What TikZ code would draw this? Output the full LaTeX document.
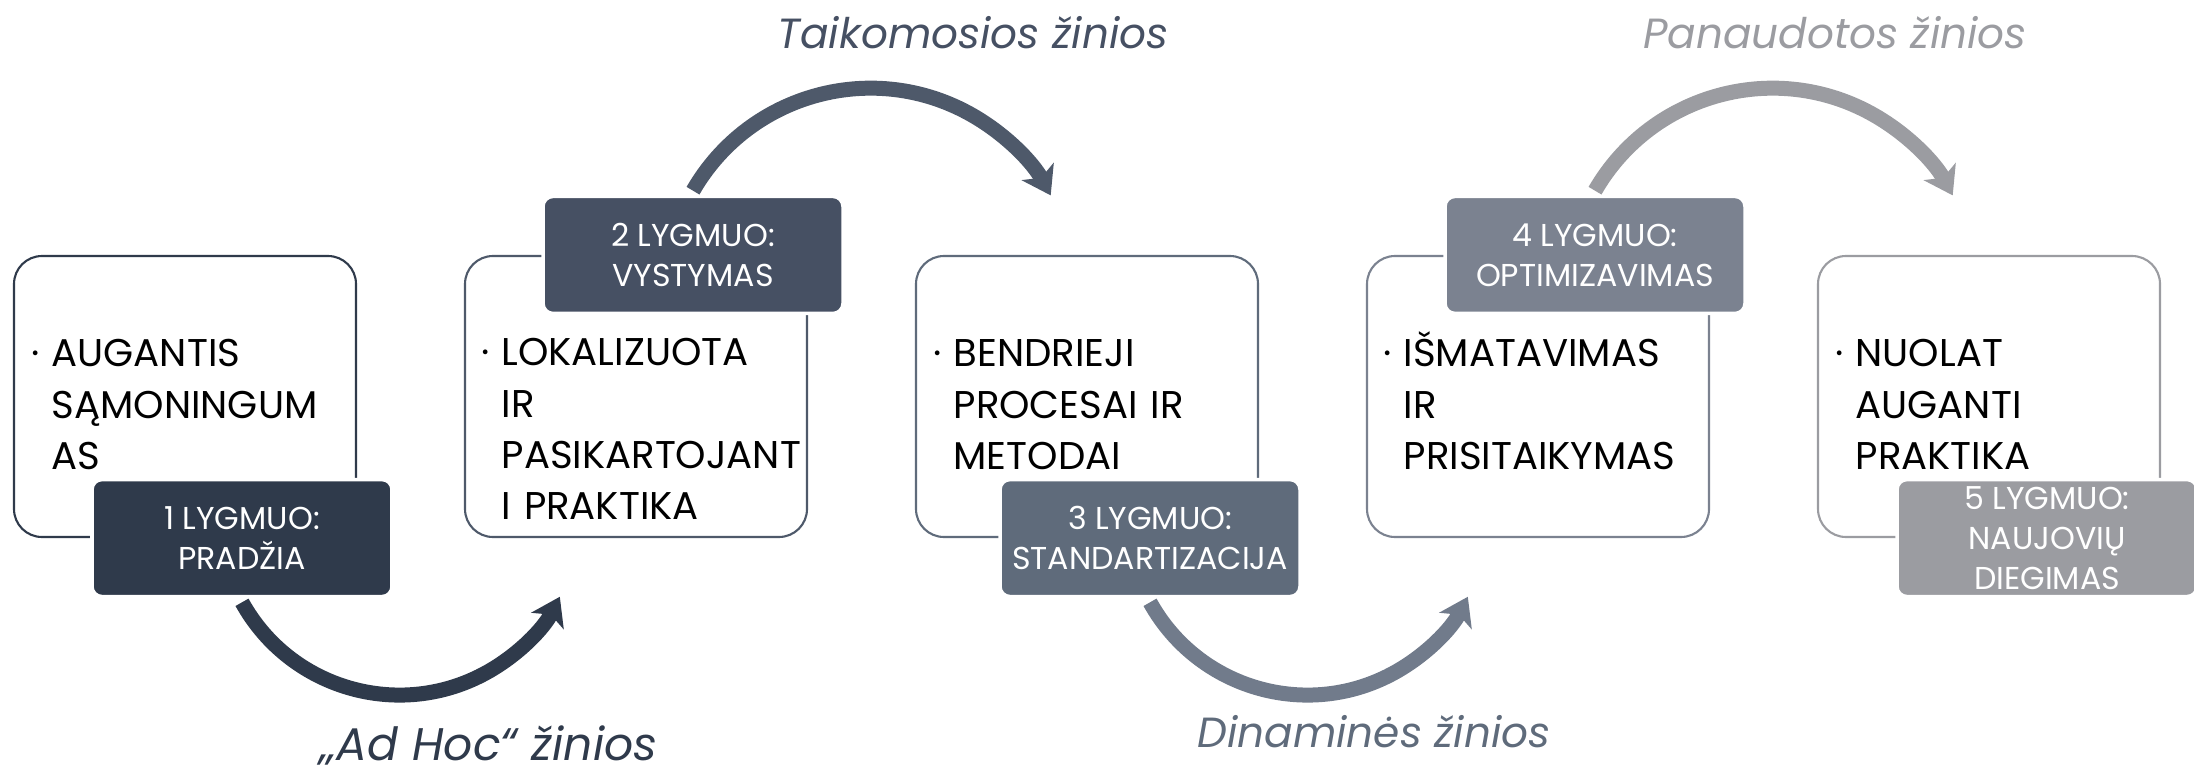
\documentclass[tikz,border=0pt]{standalone}
\usepackage{fontspec}
\setmainfont{Poppins}
\usetikzlibrary{arrows.meta,calc}

\definecolor{lvla}{HTML}{2F3A4B}
\definecolor{lvlb}{HTML}{465063}
\definecolor{lvlc}{HTML}{5F6B7B}
\definecolor{lvld}{HTML}{7B8290}
\definecolor{lvle}{HTML}{9B9CA1}
\definecolor{arrb}{HTML}{4E596A}
\definecolor{arrc}{HTML}{717B8B}

\tikzset{
  stagebox/.style={draw, line width=0.6pt, rounded corners=0.28cm,
    minimum width=3.42cm, minimum height=2.81cm, fill=white},
  stagetext/.style={anchor=base west, text width=2.95cm, align=left,
    inner sep=0pt, font=\fontsize{11}{14.6}\selectfont},
  levelbox/.style={draw=white, line width=1pt, rounded corners=0.1cm,
    minimum width=3.0cm, minimum height=1.17cm, text=white, align=center,
    inner sep=0pt, font=\fontsize{9}{11.4}\selectfont},
  flow/.style={line width=0.15cm,
    -{Stealth[length=0.27cm, width=0.36cm, inset=0.07cm]}},
  knowtext/.style={anchor=base, inner sep=0pt,
    font=\fontsize{12}{14}\selectfont\itshape}
}

\begin{document}
\begin{tikzpicture}
\useasboundingbox (0, 0) rectangle (21.94, 7.70);
\foreach \i/\x/\c in {1/1.85/lvla, 2/6.36/arrb, 3/10.87/lvlc, 4/15.38/lvld, 5/19.89/lvle}
    \node[stagebox, draw=\c] (b\i) at (\x, 3.735) {};

\node[stagetext] (t1) at ($(b1.north west) + (0.38, -1.12)$) {\llap{·\hspace{0.12cm}}AUGANTIS\\SĄMONINGUM\\AS};
\node[stagetext] (t2) at ($(b2.north west) + (0.37, -1.11)$) {\llap{·\hspace{0.12cm}}LOKALIZUOTA\\IR\\PASIKARTOJANT\\I PRAKTIKA};
\node[stagetext] (t3) at ($(b3.north west) + (0.38, -1.12)$) {\llap{·\hspace{0.12cm}}BENDRIEJI\\PROCESAI IR\\METODAI};
\node[stagetext] (t4) at ($(b4.north west) + (0.37, -1.12)$) {\llap{·\hspace{0.12cm}}IŠMATAVIMAS\\IR\\PRISITAIKYMAS};
\node[stagetext] (t5) at ($(b5.north west) + (0.38, -1.12)$) {\llap{·\hspace{0.12cm}}NUOLAT\\AUGANTI\\PRAKTIKA};

\node[levelbox, fill=lvla] (l1) at ($(b1.south) + (0.57, 0)$) {1 LYGMUO:\\PRADŽIA};
\node[levelbox, fill=lvlb] (l2) at ($(b2.north) + (0.57, 0)$) {2 LYGMUO:\\VYSTYMAS};
\node[levelbox, fill=lvlc] (l3) at ($(b3.south) + (0.63, 0)$) {3 LYGMUO:\\STANDARTIZACIJA};
\node[levelbox, fill=lvld] (l4) at ($(b4.north) + (0.57, 0)$) {4 LYGMUO:\\OPTIMIZAVIMAS};
\node[levelbox, fill=lvle] (l5) at ($(b5.south) + (0.58, 0)$) {5 LYGMUO:\\NAUJOVIŲ\\DIEGIMAS};

\draw[flow, lvla] ($(l1.south) + (0, -0.04)$) arc[start angle=209, end angle=333, radius=1.80];
\draw[flow, arrb] ($(l2.north) + (0, 0.04)$) arc[start angle=150, end angle=28.5, radius=2.05];
\draw[flow, arrc] ($(l3.south) + (0, -0.04)$) arc[start angle=209, end angle=333, radius=1.80];
\draw[flow, lvle] ($(l4.north) + (0, 0.04)$) arc[start angle=150, end angle=28.5, radius=2.05];

\node[knowtext, lvla, font=\fontsize{13}{15}\selectfont\itshape] (k1) at (4.89, 0.10) {„Ad Hoc“ žinios};
\node[knowtext, lvlb] (k2) at (9.73, 7.21) {Taikomosios žinios};
\node[knowtext, lvlc] (k3) at (13.74, 0.23) {Dinaminės žinios};
\node[knowtext, lvle] (k4) at (18.35, 7.21) {Panaudotos žinios};
\end{tikzpicture}
\end{document}
